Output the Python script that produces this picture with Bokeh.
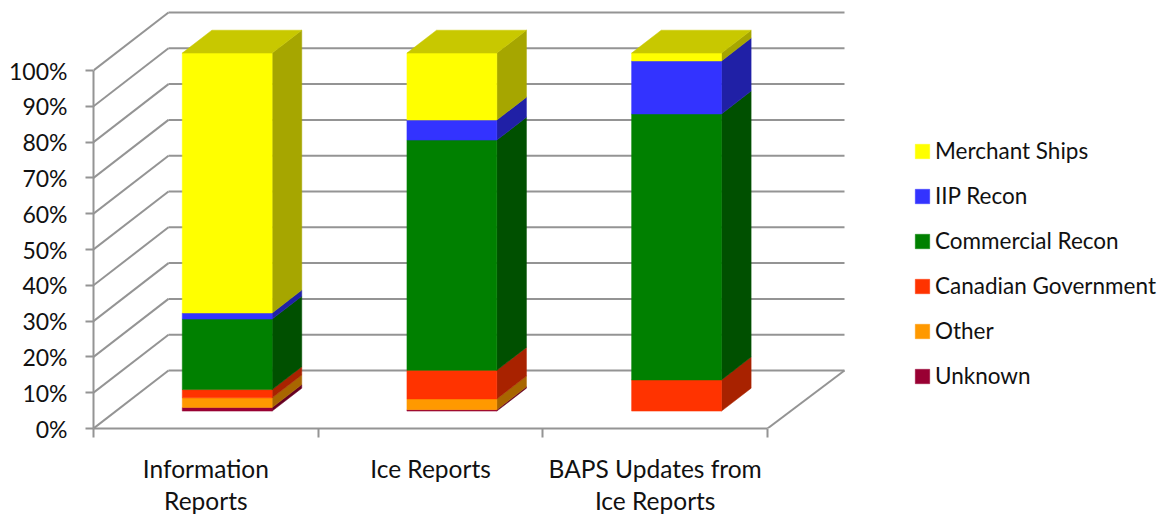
from bokeh.plotting import figure
from bokeh.embed import file_html
from bokeh.resources import INLINE
from bokeh.models import Range1d, FixedTicker, LinearAxis, Legend, LegendItem, PrintfTickFormatter, ColumnDataSource

categories = ["Information\nReports", "Ice Reports", "BAPS Updates from\nIce Reports"]
series_names = ["Unknown", "Other", "Canadian Government", "Commercial Recon", "IIP Recon", "Merchant Ships"]
unknown = [1.0, 0.4, 0.0]
other = [2.7, 3.0, 0.0]
canadian = [2.3, 8.0, 8.7]
commercial = [19.7, 64.3, 74.3]
iip_recon = [1.7, 5.6, 14.8]
merchant = [72.6, 18.7, 2.2]
series_values = [unknown, other, canadian, commercial, iip_recon, merchant]
face_colors = ["#990033", "#FF9900", "#FF3300", "#008000", "#3333FF", "#FFFF00"]
side_colors = ["#660022", "#A86600", "#A82200", "#005000", "#2020A6", "#A6A600"]
top_colors = ["#7A0029", "#C87A00", "#C82800", "#006000", "#2828C8", "#C8C800"]
y_ticks = list(range(0, 101, 10))

FONT = "Lato"
GRID = "#949494"
PX_PER_X = 224.67
PX_PER_Y = 3.58
DX = 75 / PX_PER_X         # full depth of the floor, x units
DY = 58 / PX_PER_Y         # full depth of the floor, percent units
BACK_RIGHT = (844 - 93) / PX_PER_X
D_FRONT, D_BACK = 0.3, 0.695
BAR_L, BAR_R = 0.295, 0.695

p = figure(width=1165, height=514, frame_width=1072, frame_height=428,
           min_border_left=93, min_border_right=0, min_border_top=0, min_border_bottom=86,
           x_range=Range1d(0, 1072 / PX_PER_X), y_range=Range1d(0, 428 / PX_PER_Y),
           output_backend="svg", toolbar_location=None, x_axis_location=None, y_axis_location=None)
p.grid.visible = False
p.outline_line_color = None

# walls
xs0, ys0, xs1, ys1 = [], [], [], []
for v in y_ticks:
    xs0 += [0, DX]; ys0 += [v, v + DY]
    xs1 += [DX, BACK_RIGHT]; ys1 += [v + DY, v + DY]
xs0.append(len(categories)); ys0.append(0); xs1.append(BACK_RIGHT); ys1.append(DY)
p.segment(xs0, ys0, xs1, ys1, line_color=GRID, line_width=2)

# axes
yax = LinearAxis(ticker=FixedTicker(ticks=y_ticks), bounds=(0, 100),
                 formatter=PrintfTickFormatter(format="%d%%"))
yax.axis_line_color = GRID; yax.axis_line_width = 2
yax.major_tick_line_color = GRID; yax.major_tick_line_width = 2
yax.major_tick_in = 0; yax.major_tick_out = 8; yax.minor_tick_line_color = None
yax.major_label_text_font = FONT; yax.major_label_text_font_size = "23px"
yax.major_label_text_color = "#111111"; yax.major_label_standoff = 18
p.add_layout(yax, "left")

centers = [i + 0.5 for i in range(len(categories))]
xax = LinearAxis(ticker=FixedTicker(ticks=centers, minor_ticks=list(range(len(categories) + 1))),
                 bounds=(0, len(categories)),
                 major_label_overrides={c: t for c, t in zip(centers, categories)})
xax.axis_line_color = GRID; xax.axis_line_width = 2
xax.major_tick_line_color = None; xax.major_tick_in = 0; xax.major_tick_out = 0
xax.minor_tick_line_color = GRID; xax.minor_tick_line_width = 2
xax.minor_tick_in = 0; xax.minor_tick_out = 9
xax.major_label_text_font = FONT; xax.major_label_text_font_size = "24.5px"
xax.major_label_text_color = "#111111"; xax.major_label_standoff = 16
xax.major_label_text_line_height = 1.13
p.add_layout(xax, "below")

# bars
n = len(categories)
base = [0.0] * n
dd = D_BACK - D_FRONT
legend_items = {}
for name, vals, fc, sc in zip(series_names, series_values, face_colors, side_colors):
    tops = [b + v for b, v in zip(base, vals)]
    left = [i + BAR_L + D_FRONT * DX for i in range(n)]
    right = [i + BAR_R + D_FRONT * DX for i in range(n)]
    bottom = [b + D_FRONT * DY for b in base]
    top = [t + D_FRONT * DY for t in tops]
    side_x = [[r, r + dd * DX, r + dd * DX, r] for r in right]
    side_y = [[b, b + dd * DY, t + dd * DY, t] for b, t in zip(bottom, top)]
    keep = [i for i in range(n) if vals[i] > 0]
    p.patches([side_x[i] for i in keep], [side_y[i] for i in keep], fill_color=sc, line_color=sc, line_width=0.5)
    src = ColumnDataSource(dict(left=[left[i] for i in keep], right=[right[i] for i in keep],
                                bottom=[bottom[i] for i in keep], top=[top[i] for i in keep]))
    r = p.quad(left="left", right="right", bottom="bottom", top="top", source=src,
               fill_color=fc, line_color=fc, line_width=0.5)
    legend_items[name] = r
    base = tops

# lid of each bar, in the colour of its highest series
lid_x, lid_y = [], []
for i in range(n):
    l = i + BAR_L + D_FRONT * DX
    r = i + BAR_R + D_FRONT * DX
    t = base[i] + D_FRONT * DY
    lid_x.append([l, r, r + dd * DX, l + dd * DX])
    lid_y.append([t, t, t + dd * DY, t + dd * DY])
p.patches(lid_x, lid_y, fill_color=top_colors[-1], line_color=top_colors[-1], line_width=0.5)

legend = Legend(items=[LegendItem(label=nm, renderers=[legend_items[nm]]) for nm in reversed(series_names)],
                location=(820, 39), orientation="vertical",
                glyph_width=18, glyph_height=18, label_standoff=4, spacing=18,
                label_text_font=FONT, label_text_font_size="22.5px", label_text_color="#111111",
                border_line_color=None, background_fill_alpha=0, padding=0, margin=0)
p.add_layout(legend, "center")

open("out.html", "w").write(file_html(p, INLINE))
